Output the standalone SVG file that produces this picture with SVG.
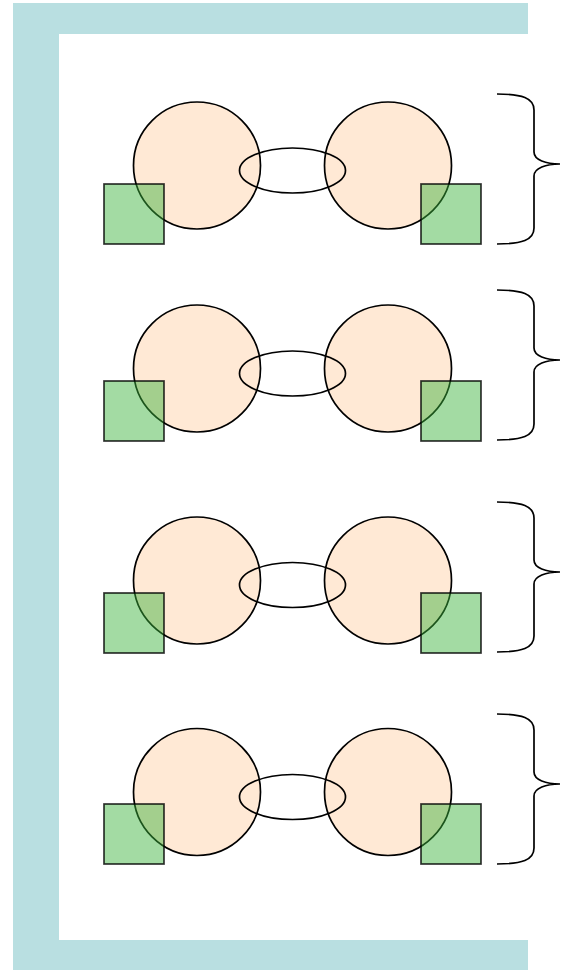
<svg xmlns="http://www.w3.org/2000/svg" width="561" height="970" viewBox="0 0 561 970">
<style>
.frame{fill:#b9dfe1;stroke:none}
.circ{fill:#ffe9d5;stroke:#000;stroke-width:1.7}
.ell{fill:none;stroke:#000;stroke-width:1.7}
.sq{fill:#3bb33b;fill-opacity:0.47;stroke:#000;stroke-opacity:0.8;stroke-width:1.7}
.brace{fill:none;stroke:#000;stroke-width:1.7}
</style>
<defs>
<path id="br" d="M497,0 C522,0 534,4 534,16 L534,58 C534,66 546,70 560,70 C546,70 534,74 534,82 L534,134 C534,146 522,150 497,150"/>
</defs>
<rect width="561" height="970" fill="#fff"/>
<g id="frame">
<path class="frame" d="M13,3 H528 V34 H59 V940 H528 V970 H13 Z"/>
</g>
<g id="row1">
<g id="r1-circle-left"><circle class="circ" cx="197" cy="165.5" r="63.5"/></g>
<g id="r1-circle-right"><circle class="circ" cx="388" cy="165.5" r="63.5"/></g>
<g id="r1-ellipse"><ellipse class="ell" cx="292.5" cy="170.5" rx="53" ry="22.5"/></g>
<g id="r1-square-left"><rect class="sq" x="104" y="184" width="60" height="60"/></g>
<g id="r1-square-right"><rect class="sq" x="421" y="184" width="60" height="60"/></g>
<g id="r1-brace"><use href="#br" class="brace" transform="translate(0,94)"/></g>
</g>
<g id="row2">
<g id="r2-circle-left"><circle class="circ" cx="197" cy="368.5" r="63.5"/></g>
<g id="r2-circle-right"><circle class="circ" cx="388" cy="368.5" r="63.5"/></g>
<g id="r2-ellipse"><ellipse class="ell" cx="292.5" cy="373.5" rx="53" ry="22.5"/></g>
<g id="r2-square-left"><rect class="sq" x="104" y="381" width="60" height="60"/></g>
<g id="r2-square-right"><rect class="sq" x="421" y="381" width="60" height="60"/></g>
<g id="r2-brace"><use href="#br" class="brace" transform="translate(0,290)"/></g>
</g>
<g id="row3">
<g id="r3-circle-left"><circle class="circ" cx="197" cy="580.5" r="63.5"/></g>
<g id="r3-circle-right"><circle class="circ" cx="388" cy="580.5" r="63.5"/></g>
<g id="r3-ellipse"><ellipse class="ell" cx="292.5" cy="585" rx="53" ry="22.5"/></g>
<g id="r3-square-left"><rect class="sq" x="104" y="593" width="60" height="60"/></g>
<g id="r3-square-right"><rect class="sq" x="421" y="593" width="60" height="60"/></g>
<g id="r3-brace"><use href="#br" class="brace" transform="translate(0,502)"/></g>
</g>
<g id="row4">
<g id="r4-circle-left"><circle class="circ" cx="197" cy="792" r="63.5"/></g>
<g id="r4-circle-right"><circle class="circ" cx="388" cy="792" r="63.5"/></g>
<g id="r4-ellipse"><ellipse class="ell" cx="292.5" cy="797" rx="53" ry="22.5"/></g>
<g id="r4-square-left"><rect class="sq" x="104" y="804" width="60" height="60"/></g>
<g id="r4-square-right"><rect class="sq" x="421" y="804" width="60" height="60"/></g>
<g id="r4-brace"><use href="#br" class="brace" transform="translate(0,714)"/></g>
</g>
</svg>
